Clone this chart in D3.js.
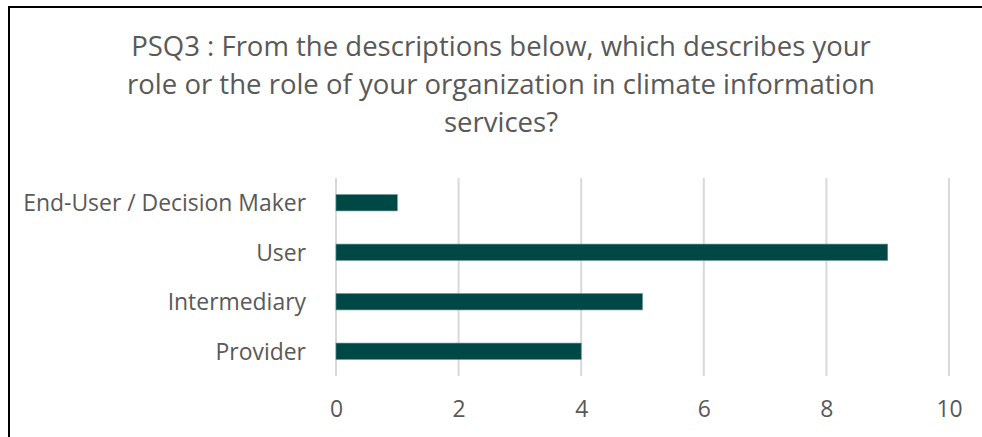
<!DOCTYPE html>
<html>
<head>
<meta charset="utf-8">
<script src="https://cdn.jsdelivr.net/npm/d3@7"></script>
<style>
  html, body { margin: 0; padding: 0; background: #fff; }
  svg { display: block; }
</style>
</head>
<body>
<svg id="chart" width="982" height="437"></svg>
<script>
const titleLines = [
  "PSQ3 : From the descriptions below, which describes your",
  "role or the role of your organization in climate information",
  "services?"
];
const categories = ["End-User / Decision Maker", "User", "Intermediary", "Provider"];
const values = [1, 9, 5, 4];
const xTicks = [0, 2, 4, 6, 8, 10];

const svg = d3.select("#chart");
const FONT = "'Open Sans', 'Liberation Sans', sans-serif";
const TXT = "#595959";

// frame (left & top visible; right/bottom run off the image)
svg.append("rect")
  .attr("x", 9).attr("y", 7)
  .attr("width", 1000).attr("height", 500)
  .attr("fill", "none").attr("stroke", "#000").attr("stroke-width", 2);

const m = { left: 336, right: 949, top: 178, bottom: 376 };
const x = d3.scaleLinear().domain([0, 10]).range([m.left, m.right]);
const y = d3.scaleBand().domain(categories).range([m.top, m.bottom]).paddingInner(0.67).paddingOuter(0.335);

// title
const titleY = [56, 94, 132];
const titleG = svg.append("g");
titleLines.forEach((t, i) => {
  titleG.append("text")
    .attr("x", 501).attr("y", titleY[i])
    .attr("text-anchor", "middle")
    .attr("font-family", FONT).attr("font-size", 24)
    .attr("fill", TXT).text(t);
});
// fit title font size so the first line spans the reference width
{
  const first = titleG.select("text").node();
  const w = first.getComputedTextLength();
  titleG.selectAll("text").attr("font-size", 24 * 740 / w);
}

// gridlines
svg.append("g").selectAll("line").data(xTicks).join("line")
  .attr("x1", d => x(d)).attr("x2", d => x(d))
  .attr("y1", m.top).attr("y2", m.bottom)
  .attr("stroke", "#d9d9d9").attr("stroke-width", 2);

// bars
svg.append("g").selectAll("rect").data(categories).join("rect")
  .attr("x", x(0))
  .attr("y", d => y(d))
  .attr("width", (d, i) => x(values[i]) - x(0))
  .attr("height", y.bandwidth())
  .attr("fill", "#004846")
  .attr("stroke", "#5f8f8c").attr("stroke-width", 0.6);

// x axis
const xAxis = svg.append("g").attr("transform", `translate(0,${m.bottom})`)
  .call(d3.axisBottom(x).tickValues(xTicks).tickSize(0).tickPadding(25).tickFormat(d3.format("d")));
xAxis.select(".domain").remove();
xAxis.selectAll("text").attr("font-family", FONT).attr("fill", TXT);

// y axis
const yAxis = svg.append("g").attr("transform", `translate(${m.left},1)`)
  .call(d3.axisLeft(y).tickSize(0).tickPadding(30));
yAxis.select(".domain").remove();
yAxis.selectAll("text").attr("font-family", FONT).attr("fill", TXT);

// fit label font size: "End-User / Decision Maker" spans ~283px
{
  const lbl = yAxis.select("text").node();
  lbl.setAttribute("font-size", 20);
  const w = lbl.getComputedTextLength();
  const fs = 20 * 283 / w;
  yAxis.selectAll("text").attr("font-size", fs);
  xAxis.selectAll("text").attr("font-size", fs);
}
</script>
</body>
</html>
